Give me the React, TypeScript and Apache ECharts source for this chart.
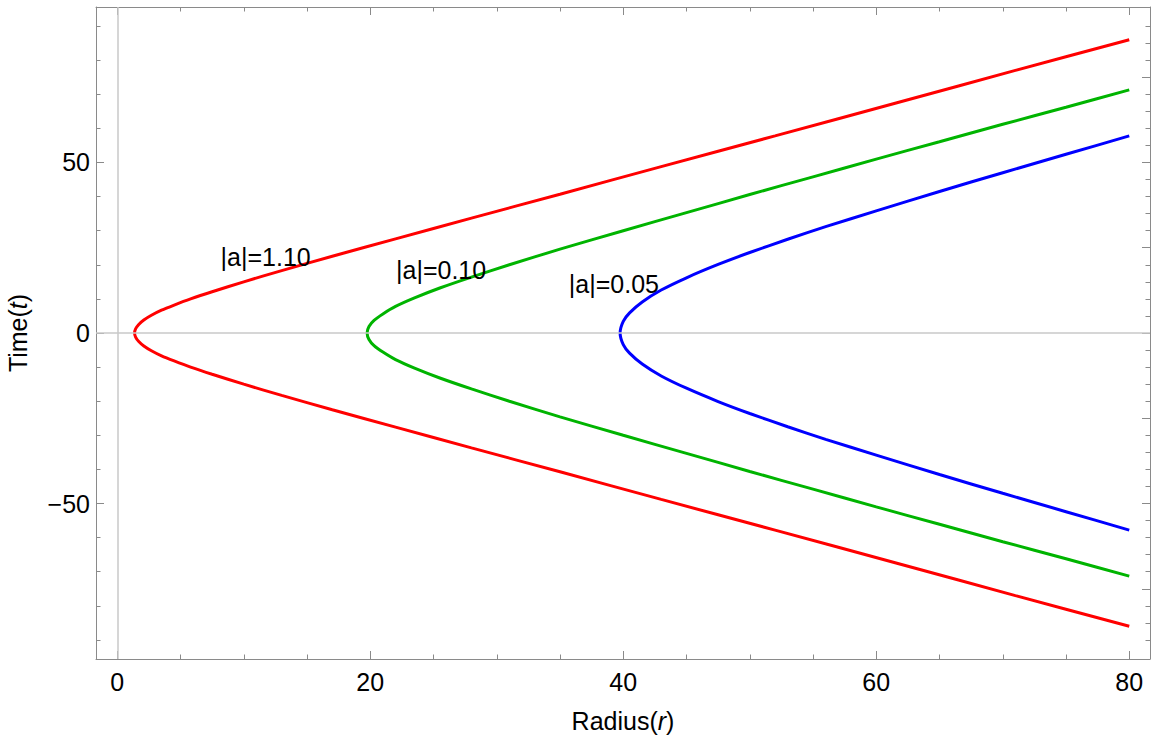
import React, { useEffect, useRef } from 'react';
import * as echarts from 'echarts';

// Upper halves of the three curves (curves are symmetric about t = 0)
const redR = [1.37, 1.45, 1.7, 2.1, 2.7, 3.5, 4.5, 5.8, 7.5, 10, 13, 17, 22, 28, 35, 43, 52, 62, 71, 80];
const redT = [0, 1.2, 2.5, 3.8, 5.2, 6.7, 8.2, 10.0, 12.1, 15.0, 18.3, 22.5, 27.6, 33.7, 40.7, 48.8, 57.8, 67.9, 77, 86];

const greenR = [19.75, 19.9, 20.3, 21, 22, 23.5, 25.5, 28, 31, 35, 40, 45, 50, 55, 60, 65, 70, 75, 80];
const greenT = [0, 1.9, 3.7, 5.6, 7.8, 10.3, 13.2, 16.4, 20.0, 24.6, 30.0, 35.3, 40.6, 45.8, 51, 56.1, 61.2, 66.2, 71.3];

const blueR = [39.75, 40, 40.5, 41.5, 43, 45, 47.5, 50, 53, 56, 60, 65, 70, 75, 80];
const blueT = [0, 3.4, 5.9, 9.1, 12.6, 16.2, 20.1, 23.6, 27.5, 31.2, 35.8, 41.5, 47, 52.4, 57.8];

const curveNames = ['|a|=1.10', '|a|=0.10', '|a|=0.05'];
const curveColors = ['#ff0000', '#00b400', '#0000ff'];

// Annotation positions [r, t, text]
const annotations: [number, number, string][] = [
  [11.73, 22.3, '|a|=1.10'],
  [25.6, 18.5, '|a|=0.10'],
  [39.26, 14.3, '|a|=0.05'],
];

// Axis ranges and ticks
const xMin = -1.68;
const xMax = 81.64;
const yMin = -95.6;
const yMax = 95.6;
const xMajor = [0, 20, 40, 60, 80];
const xMinor = [5, 10, 15, 25, 30, 35, 45, 50, 55, 65, 70, 75];
const yLeftMajor = [-50, 0, 50];
const yLeftMinor = [-90, -80, -70, -60, -40, -30, -20, -10, 10, 20, 30, 40, 60, 70, 80, 90];
const yRightMajor = [-75, -50, -25, 0, 25, 50, 75];
const yRightMinor = [-90, -85, -80, -70, -65, -60, -55, -45, -40, -35, -30, -20, -15, -10, -5, 5, 10, 15, 20, 30, 35, 40, 45, 55, 60, 65, 70, 80, 85, 90];

const FONT = "'Liberation Sans', Arial, sans-serif";
const AXIS_COLOR = '#8a8a8a';

function buildCurve(rs: number[], ts: number[]): number[][] {
  const lower: number[][] = [];
  for (let i = rs.length - 1; i >= 1; i--) lower.push([rs[i], -ts[i]]);
  const upper: number[][] = rs.map((r, i) => [r, ts[i]]);
  return lower.concat(upper);
}

const minusFmt = (v: number) => String(v).replace('-', '\u2212');

function xAxisDef(position: string, ticks: number[], len: number, showLine: boolean, labels: boolean, name?: boolean) {
  return {
    type: 'value',
    position,
    min: xMin,
    max: xMax,
    axisLine: { show: showLine, onZero: false, lineStyle: { color: AXIS_COLOR, width: 1 } },
    axisTick: { show: true, inside: true, length: len, customValues: ticks, lineStyle: { color: AXIS_COLOR, width: 1 } },
    axisLabel: labels
      ? { show: true, customValues: ticks, margin: 10, fontSize: 25, fontFamily: FONT, color: '#000', formatter: minusFmt }
      : { show: false },
    splitLine: { show: false },
    name: name ? 'Radius({i|r})' : '',
    nameLocation: 'middle',
    nameGap: 49,
    nameTextStyle: {
      fontSize: 25,
      fontFamily: FONT,
      color: '#000',
      rich: { i: { fontStyle: 'italic', fontSize: 25, fontFamily: FONT, color: '#000' } },
    },
  };
}

function yAxisDef(position: string, ticks: number[], len: number, showLine: boolean, labels: boolean, name?: boolean) {
  return {
    type: 'value',
    position,
    min: yMin,
    max: yMax,
    axisLine: { show: showLine, onZero: false, lineStyle: { color: AXIS_COLOR, width: 1 } },
    axisTick: { show: true, inside: true, length: len, customValues: ticks, lineStyle: { color: AXIS_COLOR, width: 1 } },
    axisLabel: labels
      ? { show: true, customValues: ticks, margin: 6, fontSize: 25, fontFamily: FONT, color: '#000', formatter: minusFmt }
      : { show: false },
    splitLine: { show: false },
    name: name ? 'Time({i|t})' : '',
    nameLocation: 'middle',
    nameGap: 66,
    nameTextStyle: {
      fontSize: 25,
      fontFamily: FONT,
      color: '#000',
      rich: { i: { fontStyle: 'italic', fontSize: 25, fontFamily: FONT, color: '#000' } },
    },
  };
}

export default function App() {
  const ref = useRef<HTMLDivElement>(null);
  useEffect(() => {
    if (!ref.current) return;
    const chart = echarts.init(ref.current, undefined, { renderer: 'svg' });
    const curves = [
      buildCurve(redR, redT),
      buildCurve(greenR, greenT),
      buildCurve(blueR, blueT),
    ];
    const option: any = {
      animation: false,
      backgroundColor: '#ffffff',
      grid: { left: 96, right: 11, top: 7, bottom: 87, outerBoundsMode: 'none', containLabel: false },
      xAxis: [
        xAxisDef('bottom', xMajor, 8, true, true, true),
        xAxisDef('bottom', xMinor, 4.5, false, false),
        xAxisDef('top', xMajor, 8, true, false),
        xAxisDef('top', xMinor, 4.5, false, false),
      ],
      yAxis: [
        yAxisDef('left', yLeftMajor, 8, true, true, true),
        yAxisDef('left', yLeftMinor, 4.5, false, false),
        yAxisDef('right', yRightMajor, 8, true, false),
        yAxisDef('right', yRightMinor, 4.5, false, false),
      ],
      series: [
        {
          type: 'line',
          name: 'zero',
          data: [],
          z: 1,
          silent: true,
          markLine: {
            silent: true,
            symbol: ['none', 'none'],
            label: { show: false },
            lineStyle: { color: '#c8c8c8', width: 1.5, type: 'solid' },
            data: [{ xAxis: 0 }, { yAxis: 0 }],
          },
        },
        ...curves.map((d, i) => ({
          type: 'line',
          name: curveNames[i],
          data: d,
          z: 3,
          showSymbol: false,
          smooth: 0.25,
          clip: true,
          lineStyle: { color: curveColors[i], width: 3 },
          itemStyle: { color: curveColors[i] },
        })),
        {
          type: 'scatter',
          name: 'labels',
          data: annotations,
          symbolSize: 0,
          z: 4,
          silent: true,
          itemStyle: { color: '#000000', opacity: 1 },
          label: {
            show: true,
            position: 'inside',
            formatter: (p: any) => p.value[2],
            fontSize: 25,
            fontFamily: FONT,
            color: '#000000',
            opacity: 1,
            textBorderWidth: 0,
            textBorderColor: 'transparent',
          },
        },
      ],
    };
    chart.setOption(option);
    return () => chart.dispose();
  }, []);
  return (
    <div
      ref={ref}
      style={{ position: 'fixed', left: 0, top: 0, width: 1161, height: 746, background: '#fff' }}
    />
  );
}
